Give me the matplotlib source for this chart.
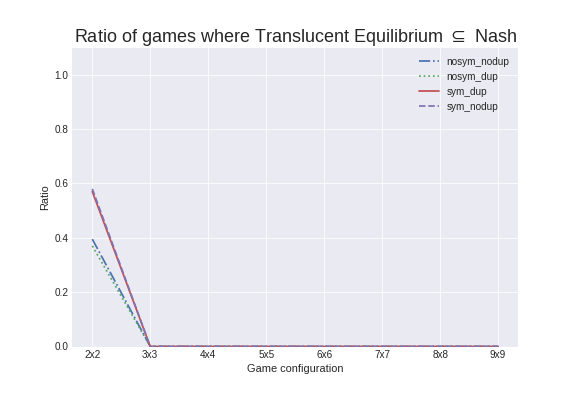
import matplotlib
matplotlib.use("Agg")
import matplotlib.pyplot as plt

plt.style.use("seaborn-v0_8-darkgrid")
plt.rcParams['font.family'] = ['Liberation Sans', 'DejaVu Sans']

configs = ["2x2", "3x3", "4x4", "5x5", "6x6", "7x7", "8x8", "9x9"]
nosym_nodup = [0.395, 0.0, 0.0, 0.0, 0.0, 0.0, 0.0, 0.0]
nosym_dup = [0.37, 0.0, 0.0, 0.0, 0.0, 0.0, 0.0, 0.0]
sym_dup = [0.57, 0.0, 0.0, 0.0, 0.0, 0.0, 0.0, 0.0]
sym_nodup = [0.58, 0.0, 0.0, 0.0, 0.0, 0.0, 0.0, 0.0]

fig, ax = plt.subplots(figsize=(8, 5.5), dpi=72)
fig.subplots_adjust(bottom=0.125)

x = range(len(configs))
lw = 1.75
ax.plot(x, nosym_nodup, '-.', color='#4C72B0', lw=lw, label='nosym_nodup')
ax.plot(x, nosym_dup, ':', color='#55A868', lw=lw, label='nosym_dup')
ax.plot(x, sym_dup, '-', color='#C44E52', lw=lw, label='sym_dup')
ax.plot(x, sym_nodup, '--', color='#8172B2', lw=lw, label='sym_nodup')

ax.set_xticks(list(x))
ax.set_xticklabels(configs)
ax.set_ylim(0, 1.1)
ax.set_xlabel("Game configuration", fontsize=11)
ax.set_ylabel("Ratio", fontsize=11)
ax.set_title(r"Ratio of games where Translucent Equilibrium $\subseteq$ Nash", fontsize=18)
ax.legend(loc='upper right')

fig.savefig("out.png")
